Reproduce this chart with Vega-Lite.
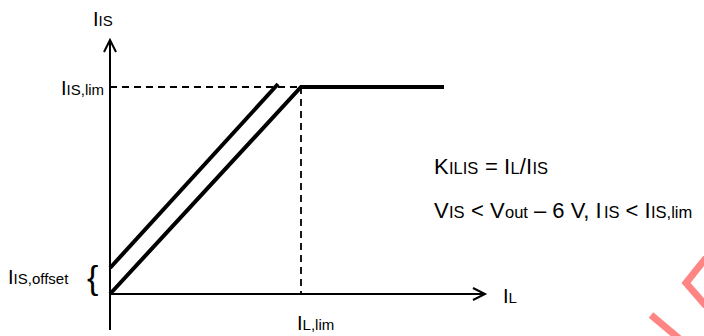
{
  "$schema": "https://vega.github.io/schema/vega-lite/v6.json",
  "width": 704,
  "height": 336,
  "autosize": {"type": "fit", "contains": "padding"},
  "padding": 0,
  "background": "white",
  "config": {"view": {"stroke": null}},
  "datasets": {
    "paths": [
      {"path": "yaxis", "kind": "axis", "ord": 1, "x": 0, "y": -36},
      {"path": "yaxis", "kind": "axis", "ord": 2, "x": 0, "y": 254},
      {"path": "yarrow", "kind": "axis", "ord": 1, "x": -6, "y": 242},
      {"path": "yarrow", "kind": "axis", "ord": 2, "x": 0, "y": 254},
      {"path": "yarrow", "kind": "axis", "ord": 3, "x": 6, "y": 242},
      {"path": "xaxis", "kind": "axis", "ord": 1, "x": 0, "y": 0},
      {"path": "xaxis", "kind": "axis", "ord": 2, "x": 375, "y": 0},
      {"path": "xarrow", "kind": "axis", "ord": 1, "x": 363, "y": 6},
      {"path": "xarrow", "kind": "axis", "ord": 2, "x": 375, "y": 0},
      {"path": "xarrow", "kind": "axis", "ord": 3, "x": 363, "y": -6},
      {"path": "withoffset", "kind": "curve", "ord": 1, "x": 0, "y": 26},
      {"path": "withoffset", "kind": "curve", "ord": 2, "x": 168, "y": 210},
      {"path": "nooffset", "kind": "curve", "ord": 1, "x": 0, "y": 0},
      {"path": "nooffset", "kind": "curve", "ord": 2, "x": 191, "y": 207},
      {"path": "nooffset", "kind": "curve", "ord": 3, "x": 334, "y": 207},
      {"path": "limh", "kind": "dash", "ord": 1, "x": 0, "y": 207},
      {"path": "limh", "kind": "dash", "ord": 2, "x": 191, "y": 207},
      {"path": "limv", "kind": "dash", "ord": 1, "x": 191, "y": 207},
      {"path": "limv", "kind": "dash", "ord": 2, "x": 191, "y": 0},
      {"path": "wm1", "kind": "mark", "ord": 1, "x": 596, "y": 36},
      {"path": "wm1", "kind": "mark", "ord": 2, "x": 576, "y": 11},
      {"path": "wm1", "kind": "mark", "ord": 3, "x": 596, "y": -12},
      {"path": "wm2", "kind": "mark", "ord": 1, "x": 541, "y": -21},
      {"path": "wm2", "kind": "mark", "ord": 2, "x": 572, "y": -47}
    ],
    "labels": [
      {"t": "I", "role": "main", "x": -17, "y": 268},
      {"t": "IS", "role": "sub", "x": -11.4, "y": 268},
      {"t": "I", "role": "main", "x": -49, "y": 199},
      {"t": "IS,lim", "role": "sub", "x": -43.4, "y": 199},
      {"t": "I", "role": "main", "x": -102, "y": 10},
      {"t": "IS,offset", "role": "sub", "x": -96.4, "y": 10},
      {"t": "{", "role": "brace", "x": -23, "y": 5},
      {"t": "I", "role": "main", "x": 187, "y": -36},
      {"t": "L,lim", "role": "sub", "x": 192.6, "y": -36},
      {"t": "I", "role": "main", "x": 393, "y": -9},
      {"t": "L", "role": "sub", "x": 398.6, "y": -9},
      {"t": "K", "role": "fmain", "x": 324, "y": 120},
      {"t": "ILIS", "role": "fsub", "x": 339, "y": 120},
      {"t": "= I", "role": "fmain", "x": 375, "y": 120},
      {"t": "L", "role": "fsub", "x": 400.5, "y": 120},
      {"t": "/I", "role": "fmain", "x": 409.8, "y": 120},
      {"t": "IS", "role": "fsub", "x": 422.5, "y": 120},
      {"t": "V", "role": "fmain", "x": 324, "y": 76},
      {"t": "IS", "role": "fsub", "x": 339, "y": 76},
      {"t": "< V", "role": "fmain", "x": 361, "y": 76},
      {"t": "out", "role": "fsub", "x": 395, "y": 76},
      {"t": "– 6 V, I", "role": "fmain", "x": 424, "y": 76},
      {"t": "IS", "role": "fsub", "x": 494, "y": 76},
      {"t": "< I", "role": "fmain", "x": 515.5, "y": 76},
      {"t": "IS,lim", "role": "fsub", "x": 541, "y": 76}
    ]
  },
  "encoding": {
    "x": {"field": "x", "type": "quantitative", "scale": {"domain": [-110, 594], "nice": false, "zero": false}, "axis": null},
    "y": {"field": "y", "type": "quantitative", "scale": {"domain": [-42, 294], "nice": false, "zero": false}, "axis": null}
  },
  "layer": [
    {
      "data": {"name": "paths"},
      "transform": [{"filter": "datum.kind === 'axis'"}],
      "mark": {"type": "line", "clip": true, "strokeWidth": 2, "color": "#000000", "strokeCap": "butt"},
      "encoding": {"detail": {"field": "path", "type": "nominal"}, "order": {"field": "ord", "type": "quantitative"}}
    },
    {
      "data": {"name": "paths"},
      "transform": [{"filter": "datum.kind === 'curve'"}],
      "mark": {"type": "line", "clip": true, "strokeWidth": 4, "color": "#000000", "strokeCap": "butt", "strokeJoin": "miter"},
      "encoding": {"detail": {"field": "path", "type": "nominal"}, "order": {"field": "ord", "type": "quantitative"}}
    },
    {
      "data": {"name": "paths"},
      "transform": [{"filter": "datum.kind === 'dash'"}],
      "mark": {"type": "line", "clip": true, "strokeWidth": 1.8, "strokeDash": [7, 5], "color": "#000000", "strokeCap": "butt"},
      "encoding": {"detail": {"field": "path", "type": "nominal"}, "order": {"field": "ord", "type": "quantitative"}}
    },
    {
      "data": {"name": "paths"},
      "transform": [{"filter": "datum.kind === 'mark'"}],
      "mark": {"type": "line", "clip": true, "strokeWidth": 7, "color": "#ff8585", "strokeCap": "butt"},
      "encoding": {"detail": {"field": "path", "type": "nominal"}, "order": {"field": "ord", "type": "quantitative"}}
    },
    {
      "data": {"name": "labels"},
      "transform": [{"filter": "datum.role === 'main'"}],
      "mark": {"type": "text", "align": "left", "baseline": "alphabetic", "font": "Liberation Sans", "fontSize": 20, "color": "#000000"},
      "encoding": {"text": {"field": "t", "type": "nominal"}}
    },
    {
      "data": {"name": "labels"},
      "transform": [{"filter": "datum.role === 'sub'"}],
      "mark": {"type": "text", "align": "left", "baseline": "alphabetic", "font": "Liberation Sans", "fontSize": 15, "color": "#000000"},
      "encoding": {"text": {"field": "t", "type": "nominal"}}
    },
    {
      "data": {"name": "labels"},
      "transform": [{"filter": "datum.role === 'fmain'"}],
      "mark": {"type": "text", "align": "left", "baseline": "alphabetic", "font": "Liberation Sans", "fontSize": 22, "color": "#000000"},
      "encoding": {"text": {"field": "t", "type": "nominal"}}
    },
    {
      "data": {"name": "labels"},
      "transform": [{"filter": "datum.role === 'fsub'"}],
      "mark": {"type": "text", "align": "left", "baseline": "alphabetic", "font": "Liberation Sans", "fontSize": 16.5, "color": "#000000"},
      "encoding": {"text": {"field": "t", "type": "nominal"}}
    },
    {
      "data": {"name": "labels"},
      "transform": [{"filter": "datum.role === 'brace'"}],
      "mark": {"type": "text", "align": "left", "baseline": "alphabetic", "font": "Liberation Sans", "fontSize": 34, "color": "#000000"},
      "encoding": {"text": {"field": "t", "type": "nominal"}}
    }
  ]
}
